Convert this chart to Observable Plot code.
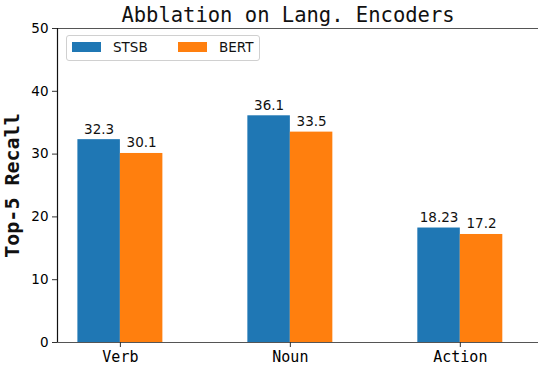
<!DOCTYPE html>
<html>
<head>
<meta charset="utf-8">
<script src="https://cdn.jsdelivr.net/npm/d3@7"></script>
<script src="https://cdn.jsdelivr.net/npm/@observablehq/plot@0.6"></script>
<style>
  body { margin: 0; background: #fff; }
  #wrap { position: relative; width: 538px; height: 368px; overflow: hidden; }
  .legend { position: absolute; left: 66px; top: 35px; width: 192px; height: 24px;
    border: 1px solid #d0d0d0; border-radius: 3px; background: rgba(255,255,255,0.8);
    font-family: "DejaVu Sans", sans-serif; font-size: 13.5px; color: #111; }
  .legend .sw { position: absolute; top: 6px; width: 29px; height: 10px; }
  .legend .lb { position: absolute; top: 3px; line-height: 16px; }
</style>
</head>
<body>
<div id="wrap"></div>
<script>
const title = "Abblation on Lang. Encoders";
const yLabel = "Top-5 Recall";
const categories = ["Verb", "Noun", "Action"];
const seriesNames = ["STSB", "BERT"];
const stsb = [32.3, 36.1, 18.23];
const bert = [30.1, 33.5, 17.2];
const colors = ["#1f77b4", "#ff7f0e"];
const yTicks = [0, 10, 20, 30, 40, 50];

const barW = 0.25;
const xDomain = [-0.37, 2.46];
const rows = [];
categories.forEach((c, i) => {
  rows.push({cat: c, series: seriesNames[0], value: stsb[i], x1: i - barW, x2: i});
  rows.push({cat: c, series: seriesNames[1], value: bert[i], x1: i, x2: i + barW});
});

const mono = "'DejaVu Sans Mono', monospace";
const sans = "'DejaVu Sans', sans-serif";

const chart = Plot.plot({
  width: 538,
  height: 368,
  marginTop: 28,
  marginBottom: 26,
  marginLeft: 57,
  marginRight: 0,
  style: {fontFamily: sans, background: "white", overflow: "visible"},
  x: {domain: xDomain, axis: null},
  y: {domain: [0, 50], axis: null},
  color: {domain: seriesNames, range: colors},
  marks: [
    Plot.rectY(rows, {x1: "x1", x2: "x2", y: "value", fill: "series", inset: 0}),
    Plot.text(rows, {x: d => (d.x1 + d.x2) / 2, y: "value", text: d => String(d.value),
      dy: -6, lineAnchor: "bottom", fontSize: 13.5, fontFamily: sans, fill: "#111"}),
    Plot.ruleY([0], {stroke: "#555", strokeWidth: 1.2}),
    Plot.ruleY([50], {stroke: "#555", strokeWidth: 1.2}),
    Plot.ruleX([xDomain[0]], {stroke: "#111", strokeWidth: 1.2}),
    Plot.axisY({ticks: yTicks, tickSize: 5, tickPadding: 4, fontSize: 13.5, label: null, stroke: "#333"}),
    Plot.axisX({ticks: categories.map((c, i) => i), tickFormat: i => categories[i], tickSize: 5,
      tickPadding: 4, fontSize: 15, fontFamily: mono, label: null, stroke: "#333", anchor: "bottom"}),
    Plot.text([yLabel], {frameAnchor: "left", textAnchor: "middle", rotate: -90, dx: -45, fontSize: 20,
      fontFamily: mono, fontWeight: "bold", fill: "#111"}),
    Plot.text([title], {frameAnchor: "top", dy: -7, dx: -10, lineAnchor: "bottom", fontSize: 20.5,
      fontFamily: mono, fill: "#111"})
  ]
});

const wrap = document.getElementById("wrap");
wrap.appendChild(chart);

const legend = document.createElement("div");
legend.className = "legend";
const legendPos = [[5, 46], [111, 152]];
seriesNames.forEach((s, k) => {
  const sw = document.createElement("div");
  sw.className = "sw";
  sw.style.left = legendPos[k][0] + "px";
  sw.style.background = colors[k];
  legend.appendChild(sw);
  const lb = document.createElement("div");
  lb.className = "lb";
  lb.style.left = legendPos[k][1] + "px";
  lb.textContent = s;
  legend.appendChild(lb);
});
wrap.appendChild(legend);
</script>
</body>
</html>
